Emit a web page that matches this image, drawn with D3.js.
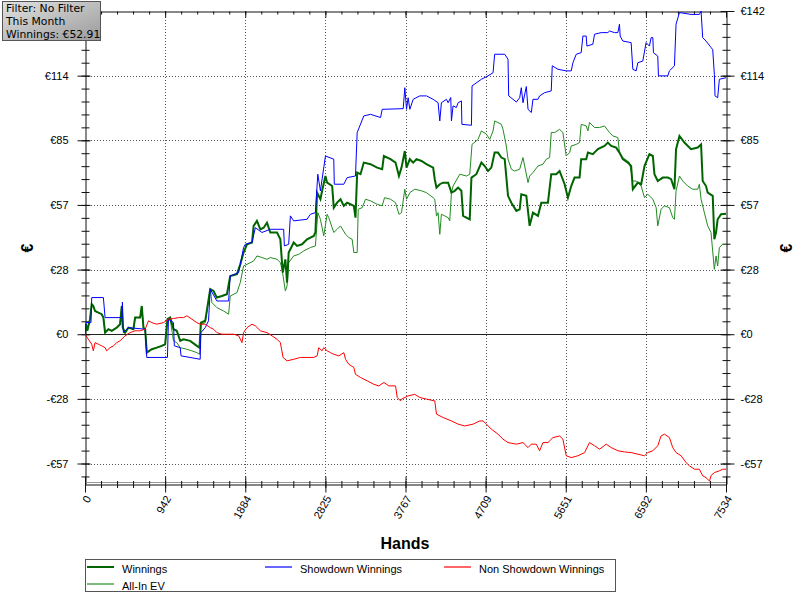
<!DOCTYPE html>
<html><head><meta charset="utf-8">
<script src="https://cdn.jsdelivr.net/npm/d3@7"></script>
<style>
body{margin:0;background:#fff;}
svg{display:block;font-family:"Liberation Sans",Arial,sans-serif;}
</style>
</head><body>
<svg id="c" width="800" height="603"></svg>
<script>
// ---- data (hands, euros) ----
const xTickValues = [0, 941.75, 1883.5, 2825.25, 3767, 4708.75, 5650.5, 6592.25, 7534];
const xTickLabels = ["0","942","1884","2825","3767","4709","5651","6592","7534"];
const yTickValues = [-56.8, -28.4, 0, 28.4, 56.8, 85.2, 113.6, 142];
const yTickLabels = ["-€57","-€28","€0","€28","€57","€85","€114","€142"];
const seriesNames = ["Winnings","All-In EV","Showdown Winnings","Non Showdown Winnings"];
const infoLines = ["Filter: No Filter","This Month","Winnings: €52.91"];

const winnings = [[0,0],[12,4.4],[27,1.5],[59,6.6],[79,13.2],[98,12.4],[118,10.2],[157,9.5],[196,8.8],[216,7.3],[236,0.7],[275,2.2],[314,1.5],[373,2.9],[412,4.4],[432,12.4],[444,2.9],[471,0.7],[510,2.9],[569,2.2],[589,7.3],[648,7.3],[667,12.4],[687,2.9],[707,2.2],[726,-8.1],[785,-6.6],[844,-5.9],[903,-5.1],[942,-4.4],[969,6.6],[1001,7.3],[1040,2.2],[1079,1.5],[1119,-2.9],[1158,-2.2],[1236,-2.9],[1315,-5.1],[1346,-5.9],[1362,5.1],[1413,5.9],[1472,19.8],[1511,19.0],[1550,16.1],[1609,16.8],[1668,17.6],[1707,25.6],[1786,26.4],[1825,30.7],[1864,35.9],[1904,39.5],[1963,40.3],[1982,47.6],[2021,49.8],[2061,46.1],[2100,46.8],[2139,49.0],[2178,44.7],[2257,44.7],[2296,41.7],[2324,27.1],[2355,32.9],[2375,22.7],[2394,35.9],[2453,40.3],[2492,38.8],[2551,39.5],[2610,41.7],[2689,43.2],[2708,44.7],[2728,62.2],[2767,59.3],[2787,63.0],[2826,69.5],[2846,66.6],[2905,65.1],[2924,55.6],[2963,57.8],[3003,59.3],[3042,56.4],[3081,57.8],[3120,57.1],[3160,56.4],[3179,51.2],[3199,71.0],[3238,70.3],[3277,75.4],[3356,74.7],[3434,73.2],[3493,72.5],[3513,78.3],[3591,76.9],[3650,75.4],[3690,69.5],[3720,73.2],[3759,80.5],[3779,73.2],[3818,76.9],[3857,75.4],[3896,76.9],[3955,76.1],[4013,74.7],[4092,73.2],[4111,68.1],[4131,64.4],[4170,65.9],[4209,66.6],[4268,66.6],[4307,62.2],[4346,63.0],[4385,64.4],[4424,63.0],[4444,52.0],[4522,50.5],[4542,68.8],[4600,70.3],[4659,75.4],[4698,73.9],[4737,71.7],[4776,73.2],[4815,79.8],[4854,79.8],[4894,77.6],[4933,76.9],[4972,60.8],[5011,57.8],[5070,54.2],[5109,54.9],[5128,61.5],[5187,60.8],[5226,47.6],[5265,53.4],[5324,52.0],[5363,57.8],[5441,57.8],[5480,70.3],[5539,70.3],[5578,71.7],[5637,65.9],[5676,60.0],[5715,65.1],[5754,68.8],[5813,68.8],[5832,76.9],[5891,76.9],[5911,79.8],[5969,79.1],[6028,81.3],[6106,82.7],[6145,84.2],[6185,82.7],[6243,82.0],[6282,79.8],[6321,76.9],[6380,75.4],[6419,73.9],[6439,63.7],[6498,66.6],[6537,65.9],[6576,73.9],[6634,79.1],[6674,78.3],[6693,70.3],[6732,67.3],[6791,68.8],[6850,68.8],[6889,68.1],[6928,63.7],[6947,81.3],[6987,87.1],[7045,84.2],[7123,81.3],[7202,82.0],[7241,83.4],[7260,67.3],[7299,65.1],[7319,62.2],[7378,60.8],[7397,41.7],[7417,44.7],[7436,50.5],[7476,52.7],[7534,52.9]];

const allInEV = [[0,0],[12,4.4],[27,1.5],[59,6.6],[79,13.2],[98,12.4],[118,10.2],[157,9.5],[196,8.8],[216,7.3],[236,0.7],[275,2.2],[314,1.5],[373,2.9],[412,4.4],[432,12.4],[444,2.9],[471,0.7],[510,2.9],[569,2.2],[589,7.3],[648,7.3],[667,12.4],[687,2.9],[707,2.2],[726,-8.1],[785,-6.6],[844,-5.9],[903,-5.1],[942,-4.4],[969,5.9],[1001,6.6],[1040,-2.9],[1079,-3.7],[1119,-5.9],[1197,-6.6],[1256,-7.3],[1315,-8.1],[1346,-8.8],[1362,4.4],[1413,5.1],[1472,19.8],[1492,13.9],[1550,11.7],[1629,10.2],[1688,8.8],[1707,16.8],[1786,18.3],[1825,22.7],[1864,30.0],[1904,30.7],[1982,32.2],[2021,34.4],[2080,33.7],[2139,32.9],[2178,33.7],[2257,32.9],[2296,31.5],[2316,28.5],[2355,19.0],[2375,21.2],[2394,31.5],[2453,34.4],[2512,35.1],[2571,36.6],[2649,38.1],[2708,38.8],[2736,53.4],[2767,50.5],[2806,43.2],[2846,52.7],[2865,51.2],[2924,44.7],[2963,46.1],[3003,47.6],[3062,43.9],[3101,42.5],[3140,41.7],[3160,35.9],[3199,35.9],[3211,54.9],[3258,55.6],[3297,59.3],[3356,58.6],[3434,57.1],[3493,56.4],[3521,60.0],[3591,59.3],[3650,57.8],[3690,52.7],[3720,53.4],[3759,63.7],[3779,59.3],[3818,62.2],[3876,63.7],[3955,63.0],[4013,62.2],[4092,60.0],[4111,59.3],[4131,51.9],[4150,53.4],[4170,43.9],[4189,52.7],[4229,52.0],[4268,51.2],[4287,49.8],[4307,62.2],[4326,65.1],[4405,70.3],[4483,69.5],[4522,70.3],[4549,83.4],[4620,85.6],[4659,89.3],[4718,87.9],[4757,85.6],[4796,89.3],[4815,93.7],[4854,93.0],[4894,92.2],[4913,90.0],[4952,82.7],[4972,76.9],[5011,72.5],[5050,71.7],[5109,72.5],[5148,77.6],[5207,66.6],[5226,69.5],[5265,71.0],[5324,73.9],[5383,74.7],[5422,76.9],[5461,77.6],[5480,88.6],[5520,88.6],[5578,90.0],[5617,88.6],[5656,78.3],[5696,79.8],[5715,82.7],[5774,83.4],[5813,84.2],[5832,92.2],[5891,91.5],[5911,89.3],[5930,93.0],[5989,90.8],[6048,90.8],[6106,91.5],[6165,88.6],[6204,87.1],[6263,86.4],[6282,79.8],[6321,77.6],[6400,75.4],[6439,67.3],[6478,67.3],[6537,65.1],[6576,60.0],[6615,61.5],[6674,59.3],[6713,55.6],[6732,47.6],[6771,54.9],[6810,56.4],[6869,55.6],[6908,51.2],[6928,50.5],[6947,63.0],[6987,69.5],[7026,67.3],[7084,65.1],[7143,63.7],[7202,63.7],[7221,65.9],[7241,59.3],[7280,53.4],[7319,47.6],[7358,44.7],[7397,28.5],[7417,34.4],[7436,30.0],[7456,38.1],[7495,39.5],[7534,39.5]];

const showdown = [[0,0],[12,5.1],[70,5.1],[79,16.1],[216,16.1],[236,7.3],[432,7.3],[440,14.1],[451,0.7],[510,2.9],[707,2.2],[726,-10.2],[969,-10.2],[981,6.6],[1040,5.1],[1050,-5.1],[1119,-5.9],[1129,-9.5],[1354,-11.0],[1362,0.7],[1413,2.9],[1452,5.9],[1472,19.8],[1550,14.6],[1688,14.6],[1707,25.6],[1806,27.1],[1825,30.7],[1864,38.1],[1884,39.5],[1963,40.3],[2002,46.8],[2080,44.7],[2178,46.1],[2335,46.1],[2343,38.8],[2394,39.5],[2414,52.0],[2453,49.8],[2610,50.5],[2649,52.7],[2708,53.4],[2736,70.3],[2767,63.0],[2826,78.3],[2924,76.9],[2930,65.9],[3042,65.9],[3081,68.8],[3179,69.5],[3199,88.6],[3277,95.9],[3356,96.6],[3474,95.2],[3493,98.8],[3740,99.1],[3759,108.3],[3779,98.8],[3798,103.9],[3818,98.8],[3857,103.2],[3935,104.7],[4013,104.7],[4092,103.2],[4150,101.7],[4170,93.7],[4189,101.7],[4248,103.2],[4268,101.7],[4299,104.0],[4307,93.7],[4326,100.3],[4365,99.6],[4385,101.7],[4424,102.5],[4430,92.2],[4542,91.8],[4549,109.1],[4659,112.0],[4737,113.5],[4796,114.9],[4815,123.0],[4933,123.0],[4972,120.8],[4980,104.7],[5031,103.2],[5070,102.0],[5109,103.9],[5128,108.3],[5148,101.7],[5187,108.8],[5207,98.8],[5246,97.4],[5265,103.2],[5324,103.2],[5343,104.7],[5402,106.1],[5480,106.9],[5492,117.9],[5559,116.4],[5656,115.7],[5715,115.7],[5735,119.3],[5774,123.0],[5832,123.7],[5852,131.0],[5891,131.0],[5899,126.6],[5969,127.4],[5989,131.8],[6067,132.5],[6145,132.5],[6165,133.2],[6224,132.5],[6263,132.5],[6282,136.2],[6290,131.0],[6321,128.8],[6419,128.1],[6439,116.4],[6478,115.7],[6498,119.3],[6556,120.0],[6595,128.1],[6634,126.6],[6654,130.3],[6674,130.3],[6681,123.7],[6732,122.2],[6740,113.5],[6850,113.5],[6869,115.7],[6928,117.9],[6947,136.2],[6987,141.3],[7123,140.5],[7221,140.5],[7241,142.0],[7260,130.3],[7299,128.8],[7358,126.0],[7378,125.0],[7397,114.2],[7405,104.7],[7436,103.9],[7456,112.0],[7534,112.7]];

const nonShowdown = [[0,0],[39,-2.2],[79,-4.4],[98,-7.3],[118,-3.7],[157,-4.4],[196,-5.1],[236,-5.9],[255,-7.3],[294,-5.9],[334,-5.1],[373,-3.7],[412,-2.9],[471,-0.7],[530,0.7],[589,1.5],[648,1.5],[707,2.2],[746,5.9],[785,5.1],[844,4.4],[922,5.1],[981,6.6],[1040,6.9],[1099,7.3],[1158,7.3],[1197,8.1],[1256,6.6],[1315,5.1],[1354,4.4],[1413,4.4],[1472,2.9],[1511,2.2],[1550,0.7],[1609,0],[1668,0],[1747,0],[1806,-0.7],[1845,-3.7],[1864,0.7],[1904,2.9],[1963,4.4],[2002,3.7],[2061,1.5],[2139,0.7],[2198,-0.7],[2257,-2.2],[2296,-3.7],[2328,-10.2],[2375,-11.7],[2453,-11.0],[2532,-10.2],[2610,-10.2],[2689,-10.2],[2728,-9.5],[2748,-5.9],[2787,-7.3],[2806,-5.9],[2846,-7.3],[2885,-8.1],[2924,-8.8],[2983,-9.5],[3042,-8.1],[3062,-11.0],[3101,-13.2],[3160,-14.6],[3179,-17.6],[3238,-19.0],[3317,-20.5],[3395,-22.0],[3454,-22.7],[3513,-21.2],[3572,-22.7],[3650,-22.7],[3670,-27.8],[3709,-29.3],[3720,-28.5],[3798,-27.1],[3876,-26.4],[3935,-27.8],[4013,-28.5],[4111,-29.3],[4131,-35.1],[4209,-36.6],[4307,-38.1],[4385,-39.5],[4463,-40.3],[4561,-39.5],[4639,-38.1],[4678,-38.1],[4718,-39.5],[4776,-41.7],[4854,-43.9],[4913,-46.1],[4972,-47.6],[5070,-48.3],[5148,-47.6],[5207,-49.8],[5246,-48.3],[5304,-48.3],[5343,-51.2],[5383,-47.6],[5441,-47.6],[5500,-45.4],[5578,-44.7],[5617,-46.1],[5656,-53.4],[5715,-54.2],[5793,-53.4],[5872,-52.0],[5930,-47.6],[5989,-49.0],[6048,-50.5],[6126,-48.3],[6185,-49.8],[6263,-51.2],[6341,-51.7],[6419,-52.0],[6498,-52.7],[6576,-53.4],[6615,-52.0],[6674,-51.2],[6732,-49.0],[6771,-44.7],[6810,-43.9],[6869,-45.4],[6908,-49.8],[6947,-52.0],[7006,-53.4],[7065,-56.4],[7104,-57.8],[7163,-59.3],[7221,-59.3],[7260,-62.2],[7299,-63.0],[7340,-64.5],[7360,-62.0],[7397,-60.8],[7456,-60.0],[7495,-59.3],[7534,-59.3]];

// ---- chart ----
const svg = d3.select("#c");
const L = 85, R = 726, T = 11, B = 484;
const x = d3.scaleLinear().domain([0, 7534]).range([L, R]);
const y = d3.scaleLinear().domain([-65.8, 142]).range([B, T]);

const defs = svg.append("defs");
defs.append("clipPath").attr("id","plotclip").append("rect")
  .attr("x", L).attr("y", T).attr("width", R - L).attr("height", B - T);
const grad = defs.append("linearGradient").attr("id","infograd")
  .attr("x1","0").attr("y1","0").attr("x2","1").attr("y2","1");
grad.append("stop").attr("offset","0%").attr("stop-color","#e2e2e2");
grad.append("stop").attr("offset","100%").attr("stop-color","#9a9a9a");

// grid
const grid = svg.append("g").attr("stroke","#555").attr("stroke-dasharray","1,2").attr("stroke-width",1);
xTickValues.slice(1, -1).forEach(v => {
  grid.append("line").attr("x1", Math.round(x(v))+0.5).attr("x2", Math.round(x(v))+0.5)
    .attr("y1", T).attr("y2", B);
});
yTickValues.filter(v => v !== 0 && v !== 142).forEach(v => {
  grid.append("line").attr("y1", Math.round(y(v))+0.5).attr("y2", Math.round(y(v))+0.5)
    .attr("x1", L).attr("x2", R);
});
// zero line
svg.append("line").attr("x1", L).attr("x2", R)
  .attr("y1", Math.round(y(0))+0.5).attr("y2", Math.round(y(0))+0.5)
  .attr("stroke","#222").attr("stroke-width",1);

// minor tick values
const minorX = d3.range(0, 41).map(k => k * 7534 / 40);
const minorY = d3.range(-11, 26).map(k => k * 5.68).filter(v => v >= -65.8 && v <= 142.1);

function styleAxis(g){
  g.selectAll(".domain").attr("stroke","#111");
  g.selectAll(".tick line").attr("stroke","#111");
}
// left axis (top label is hidden behind the info box in the reference)
const gl = svg.append("g").attr("transform",`translate(${L+0.5},0)`);
gl.call(d3.axisLeft(y).tickValues(minorY).tickFormat("").tickSizeOuter(0));
gl.selectAll(".tick line").attr("x1",-4).attr("x2",4);
styleAxis(gl);
const glm = svg.append("g").attr("transform",`translate(${L+0.5},0)`);
glm.call(d3.axisLeft(y).tickValues(yTickValues.slice(0, -1)).tickFormat((d,i)=>yTickLabels[i]).tickSizeOuter(0));
glm.select(".domain").remove();
glm.selectAll(".tick line").attr("x1",-8).attr("x2",5);
glm.selectAll(".tick text").attr("x",-17).attr("font-size",11).attr("font-family","Liberation Sans, Arial").attr("fill","#000");
styleAxis(glm);

// right axis
const gr = svg.append("g").attr("transform",`translate(${R+0.5},0)`);
gr.call(d3.axisRight(y).tickValues(minorY).tickFormat("").tickSizeOuter(0));
gr.selectAll(".tick line").attr("x1",-4).attr("x2",4);
styleAxis(gr);
const grm = svg.append("g").attr("transform",`translate(${R+0.5},0)`);
grm.call(d3.axisRight(y).tickValues(yTickValues).tickFormat((d,i)=>yTickLabels[i]).tickSizeOuter(0));
grm.select(".domain").remove();
grm.selectAll(".tick line").attr("x1",-6).attr("x2",8);
grm.selectAll(".tick text").attr("x",14).attr("font-size",11).attr("font-family","Liberation Sans, Arial").attr("fill","#000");
styleAxis(grm);

// top axis
const gt = svg.append("g").attr("transform",`translate(0,${T+0.5})`);
gt.call(d3.axisTop(x).tickValues(minorX).tickFormat("").tickSizeOuter(0));
gt.selectAll(".tick line").attr("y1",0).attr("y2",3);
styleAxis(gt);
const gtm = svg.append("g").attr("transform",`translate(0,${T+0.5})`);
gtm.call(d3.axisTop(x).tickValues(xTickValues).tickFormat("").tickSizeOuter(0));
gtm.select(".domain").remove();
gtm.selectAll(".tick line").attr("y1",0).attr("y2",6);
styleAxis(gtm);

// bottom axis
svg.append("line").attr("x1",L).attr("x2",R).attr("y1",B-1.5).attr("y2",B-1.5).attr("stroke","#999");
const gb = svg.append("g").attr("transform",`translate(0,${B+0.5})`);
gb.call(d3.axisBottom(x).tickValues(minorX).tickFormat("").tickSizeOuter(0));
gb.selectAll(".tick line").attr("y1",-3.5).attr("y2",3.5);
styleAxis(gb);
const gbm = svg.append("g").attr("transform",`translate(0,${B+0.5})`);
gbm.call(d3.axisBottom(x).tickValues(xTickValues).tickFormat((d,i)=>xTickLabels[i]).tickSizeOuter(0));
gbm.select(".domain").remove();
gbm.selectAll(".tick line").attr("y1",-8).attr("y2",8);
gbm.selectAll(".tick text")
  .attr("y",0).attr("dy",0)
  .attr("transform","translate(6,14) rotate(-60)")
  .attr("text-anchor","end")
  .attr("font-size",11).attr("font-family","Liberation Sans, Arial").attr("fill","#000");
styleAxis(gbm);

// axis titles
svg.append("text").attr("x",405).attr("y",549).attr("text-anchor","middle")
  .attr("font-size",16).attr("font-weight","bold").text("Hands");
svg.append("text").attr("transform","translate(33,248) rotate(-90)").attr("text-anchor","middle")
  .attr("font-size",16).attr("font-weight","bold").text("€");
svg.append("text").attr("transform","translate(792,248) rotate(-90)").attr("text-anchor","middle")
  .attr("font-size",16).attr("font-weight","bold").text("€");

// lines
const line = d3.line().x(d => x(d[0])).y(d => y(d[1]));
const plot = svg.append("g").attr("clip-path","url(#plotclip)").attr("fill","none");
const series = [
  {data: allInEV, color: "#228b22", w: 1},
  {data: winnings, color: "#006400", w: 2},
  {data: showdown, color: "#0000ff", w: 1},
  {data: nonShowdown, color: "#ff0000", w: 1}
];
series.forEach(s => {
  plot.append("path").datum(s.data).attr("d", line)
    .attr("stroke", s.color).attr("stroke-width", s.w).attr("stroke-linejoin","miter");
});

// legend
const lg = svg.append("g");
lg.append("rect").attr("x",85.5).attr("y",559.5).attr("width",530).attr("height",32)
  .attr("fill","#fff").attr("stroke","#555");
const legendItems = [
  {name: seriesNames[0], color:"#006400", w:2, lx:87, ly:567},
  {name: seriesNames[2], color:"#0000ff", w:1, lx:265, ly:567},
  {name: seriesNames[3], color:"#ff0000", w:1, lx:444, ly:567},
  {name: seriesNames[1], color:"#228b22", w:1, lx:87, ly:584}
];
legendItems.forEach(it => {
  lg.append("line").attr("x1",it.lx).attr("x2",it.lx+27).attr("y1",it.ly).attr("y2",it.ly)
    .attr("stroke",it.color).attr("stroke-width",it.w === 2 ? 2 : 1.2);
  lg.append("text").attr("x",it.lx+35).attr("y",it.ly+6).attr("font-size",11)
    .attr("fill","#000").text(it.name);
});

// info box
const ib = svg.append("g");
ib.append("rect").attr("x",2.5).attr("y",1.5).attr("width",98).attr("height",39)
  .attr("fill","url(#infograd)").attr("stroke","#555");
infoLines.forEach((t,i) => {
  ib.append("text").attr("x",6).attr("y",12 + i*12.9).attr("font-size",10.8)
    .attr("font-family","DejaVu Sans, Verdana, sans-serif").attr("fill","#000").text(t);
});
</script>
</body></html>
